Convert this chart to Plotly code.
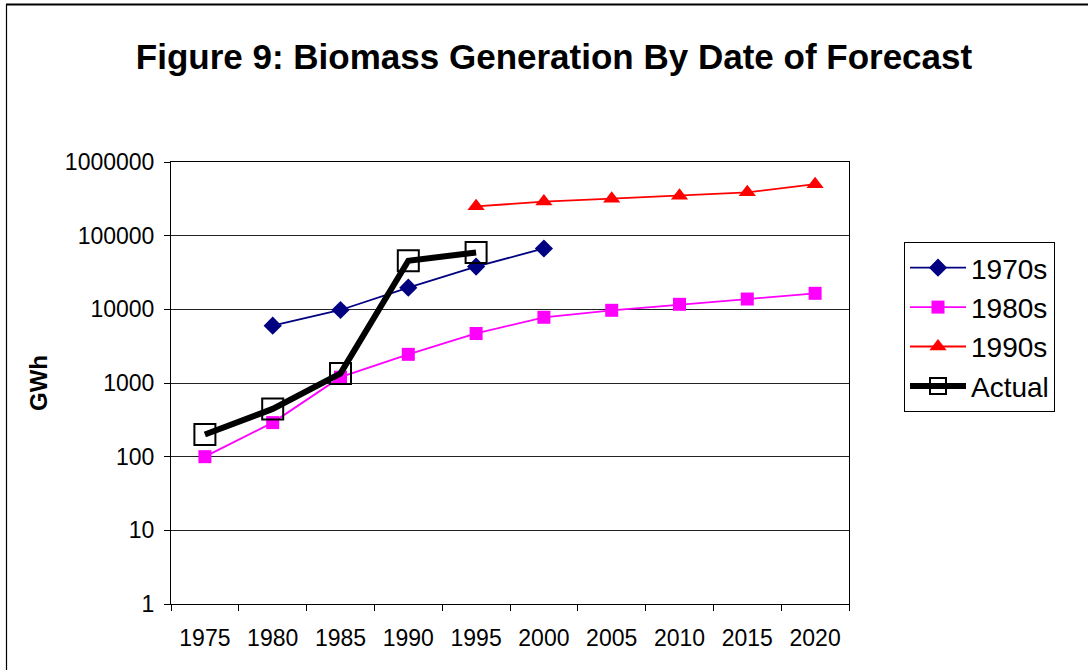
import plotly.graph_objects as go

# Forecast years (category axis)
years = ["1975", "1980", "1985", "1990", "1995", "2000", "2005", "2010", "2015", "2020"]

# Biomass generation (GWh) by date of forecast
forecast_1970s = [None, 6000, 9800, 19700, 38000, 67000, None, None, None, None]
forecast_1980s = [100, 290, 1200, 2450, 4700, 7800, 9700, 11700, 13800, 16500]
forecast_1990s = [None, None, None, None, 250000, 290000, 318000, 348000, 388000, 500000]
actual = [200, 445, 1350, 45700, 59000, None, None, None, None, None]

y_tickvals = [1, 10, 100, 1000, 10000, 100000, 1000000]
y_ticktext = ["1", "10", "100", "1000", "10000", "100000", "1000000"]

FONT = "Liberation Sans, Arial, sans-serif"

fig = go.Figure()

fig.add_trace(go.Scatter(
    x=years, y=forecast_1970s, name="1970s", mode="lines+markers",
    line=dict(color="#000080", width=1.8),
    marker=dict(symbol="diamond", size=14, color="#000080"),
))
fig.add_trace(go.Scatter(
    x=years, y=forecast_1980s, name="1980s", mode="lines+markers",
    line=dict(color="#FF00FF", width=1.8),
    marker=dict(symbol="square", size=13, color="#FF00FF"),
))
fig.add_trace(go.Scatter(
    x=years, y=forecast_1990s, name="1990s", mode="lines+markers",
    line=dict(color="#FF0000", width=1.8),
    marker=dict(symbol="triangle-up", size=15, color="#FF0000"),
))
fig.add_trace(go.Scatter(
    x=years, y=actual, name="Actual", mode="lines+markers",
    line=dict(color="#000000", width=6),
    marker=dict(symbol="square-open", size=21, color="#000000",
                line=dict(width=2, color="#000000")),
))

fig.update_layout(
    width=1088, height=670,
    margin=dict(l=171, r=239, t=162, b=66),
    paper_bgcolor="white", plot_bgcolor="white",
    font=dict(family=FONT, color="black"),
    title=dict(
        text="<b>Figure 9: Biomass Generation By Date of Forecast</b>",
        font=dict(family=FONT, size=35, color="black"),
        x=554 / 1088, xanchor="center", xref="container",
        y=1 - 57 / 670, yanchor="middle", yref="container",
    ),
    showlegend=True,
    legend=dict(
        x=(904 - 171) / 678, y=(604 - 242) / 442,
        xanchor="left", yanchor="top",
        bordercolor="black", borderwidth=1, bgcolor="white",
        font=dict(family=FONT, size=28, color="black"),
        itemwidth=56, tracegroupgap=0,
    ),
    xaxis=dict(
        type="category", categoryorder="array", categoryarray=years,
        range=[-0.5, 9.5],
        showline=True, linecolor="black", linewidth=1, mirror=True,
        ticks="outside", ticklen=6, tickcolor="black", tickson="boundaries",
        ticklabelstandoff=13,
        showgrid=False, zeroline=False,
        tickfont=dict(family=FONT, size=23, color="black"),
    ),
    yaxis=dict(
        type="log", range=[0, 6],
        tickvals=y_tickvals, ticktext=y_ticktext,
        showline=True, linecolor="black", linewidth=1, mirror=True,
        ticks="outside", ticklen=6, tickcolor="black",
        ticklabelstandoff=5,
        showgrid=True, gridcolor="#222222", gridwidth=1,
        zeroline=False,
        tickfont=dict(family=FONT, size=23, color="black"),
        title=dict(text="<b>GWh</b>", font=dict(family=FONT, size=24, color="black"),
                   standoff=10),
    ),
    shapes=[
        # outer chart frame: top and left edges
        dict(type="line", xref="paper", yref="paper",
             x0=(6 - 171) / 678, x1=(1100 - 171) / 678,
             y0=(604 - 4.5) / 442, y1=(604 - 4.5) / 442,
             line=dict(color="black", width=2)),
        dict(type="line", xref="paper", yref="paper",
             x0=(6.5 - 171) / 678, x1=(6.5 - 171) / 678,
             y0=(604 - 700) / 442, y1=(604 - 4.5) / 442,
             line=dict(color="black", width=1.2)),
    ],
)

fig.write_html("out.html")
